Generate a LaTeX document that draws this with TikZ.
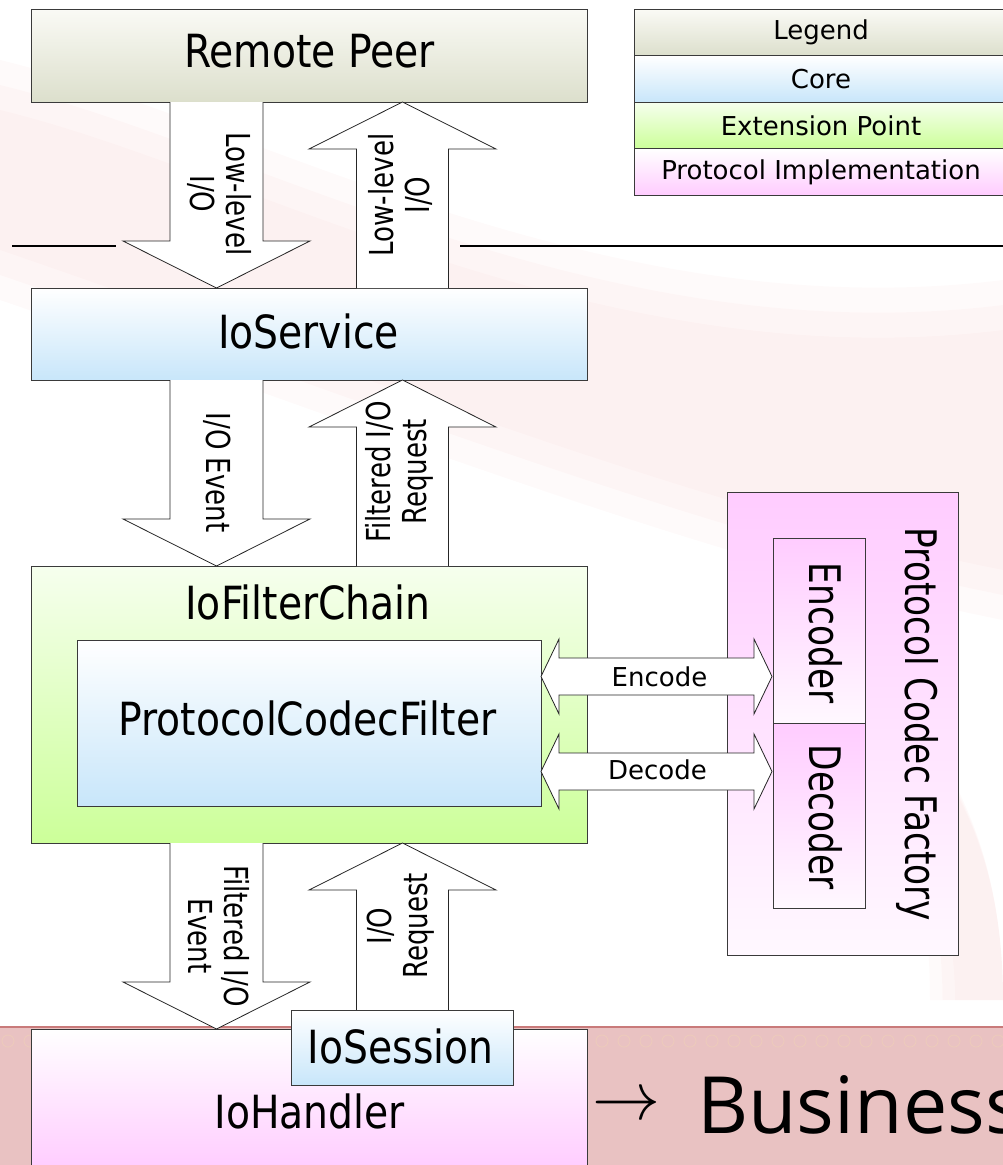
\documentclass[tikz,border=0pt]{standalone}
\usepackage{fontspec}
\setmainfont{DejaVu Sans}
\newfontfamily\bigfont[FakeStretch=0.86]{DejaVu Sans}
\newfontfamily\vfont[FakeStretch=0.79]{DejaVu Sans}
\newfontfamily\bizfont{Open Sans}
\definecolor{peerB}{HTML}{DCDFCC}
\definecolor{peerT}{HTML}{FAFAF5}
\definecolor{coreB}{HTML}{C8E6FA}
\definecolor{extB}{HTML}{CCFF99}
\definecolor{extT}{HTML}{F6FFEE}
\definecolor{implB}{HTML}{FFCCFF}
\definecolor{implW}{HTML}{FFF8FF}
\definecolor{bandC}{HTML}{E9C2C2}
\definecolor{bandE}{HTML}{C97A7A}
\definecolor{edgeC}{HTML}{3A3A3A}
\definecolor{swirl}{HTML}{EDCBBB}
\definecolor{feather}{HTML}{F2B8B8}
\tikzset{
  boxbase/.style={rectangle, draw=edgeC, line width=1pt, inner sep=0pt, outer sep=0pt},
  peerbox/.style={boxbase, top color=peerT, bottom color=peerB},
  corebox/.style={boxbase, top color=white, bottom color=coreB},
  extbox/.style={boxbase, top color=extT, bottom color=extB},
  implup/.style={boxbase, top color=white, bottom color=implB},
  impldown/.style={boxbase, top color=implB, bottom color=implW},
  blockarrow/.style={fill=white, draw=black!85, line width=0.8pt, line join=miter},
  sepline/.style={draw=black, line width=1.6pt},
  bigtxt/.style={font=\bigfont\fontsize{45.7}{50}\selectfont, inner sep=0pt},
  smalltxt/.style={font=\fontsize{26}{30}\selectfont, inner sep=0pt},
  vtxt/.style={font=\vfont\fontsize{33}{36}\selectfont, align=center, inner sep=0pt},
  vbig/.style={font=\vfont\fontsize{43.5}{48}\selectfont, inner sep=0pt},
  featherfill/.style={fill=feather, opacity=0.07},
}
\newcommand{\blockdown}[3]{%
  \draw[blockarrow] ({#1-46.5},#2) -- ({#1-46.5},{#3-47}) -- ({#1-93.5},{#3-47}) -- (#1,#3)
    -- ({#1+93.5},{#3-47}) -- ({#1+46.5},{#3-47}) -- ({#1+46.5},#2);}
\newcommand{\blockup}[3]{%
  \draw[blockarrow] ({#1-46},#2) -- ({#1-46},{#3+47}) -- ({#1-93.5},{#3+47}) -- (#1,#3)
    -- ({#1+93.5},{#3+47}) -- ({#1+46},{#3+47}) -- ({#1+46},#2);}
\newcommand{\blockboth}[3]{%
  \draw[blockarrow] (#1,#3) -- ({#1+18},{#3-37.5}) -- ({#1+18},{#3-18.5}) -- ({#2-18},{#3-18.5})
    -- ({#2-18},{#3-37.5}) -- (#2,#3) -- ({#2-18},{#3+37.5}) -- ({#2-18},{#3+18.5})
    -- ({#1+18},{#3+18.5}) -- ({#1+18},{#3+37.5}) -- cycle;}
\begin{document}
\begin{tikzpicture}[x=1pt,y=-1pt]
\useasboundingbox (0,0) rectangle (1003,1165);
% faint feather watermark (soft, layered)
\foreach \d in {0,25,50} {
  \fill[featherfill] (0,{60+\d}) .. controls (250,{120+\d}) and (600,{330+\d}) .. (1003,{280+\d})
    -- (1003,{620-\d}) .. controls (700,{560-\d}) and (350,{420-\d}) .. (0,{300-\d}) -- cycle;
  \fill[featherfill] ({880+\d/3},700) .. controls (950,760) and (1003,850) .. (1003,1000)
    -- ({930+\d/2},1000) .. controls ({930+\d/2},880) and (900,780) .. ({880+\d/3},700) -- cycle;
}
% background band at the bottom
\fill[bandC] (0,1027) rectangle (1003,1165);
\foreach \i in {0,...,45} {\draw[swirl, line width=0.8pt] ({\i*22+8},1041) circle (6);}
\draw[bandE, line width=1.2pt] (0,1027) -- (1003,1027);

% separator line
\coordinate (hl1) at (12,246);
\coordinate (hl2) at (116,246);
\coordinate (hr1) at (460,246);
\coordinate (hr2) at (1003,246);
\draw[sepline] (hl1) -- (hl2);
\draw[sepline] (hr1) -- (hr2);

% legend
\node[peerbox, minimum width=374, minimum height=46.5] (lg0) at (821,32.5) {};
\node[corebox, minimum width=374, minimum height=46.5] (lg1) at (821,79) {};
\node[extbox, minimum width=374, minimum height=46.5] (lg2) at (821,125.5) {};
\node[implup, minimum width=374, minimum height=46.5] (lg3) at (821,172) {};
\node[smalltxt] (lg0t) at (821,32.5) {Legend};
\node[smalltxt] (lg1t) at (821,79) {Core};
\node[smalltxt] (lg2t) at (821,125.5) {Extension Point};
\node[smalltxt] (lg3t) at (821,172) {Protocol Implementation};

% main boxes
\node[peerbox, minimum width=556, minimum height=93] (peer) at (309,55.5) {};
\node[corebox, minimum width=556, minimum height=92] (svc) at (309,334) {};
\node[extbox, minimum width=556, minimum height=277] (chain) at (309,704.5) {};
\node[corebox, minimum width=464, minimum height=166] (pcf) at (309,723) {};
\node[impldown, minimum width=231, minimum height=463] (fact) at (842.5,723.5) {};
\node[implup, minimum width=556, minimum height=141] (hand) at (309,1099.5) {};

% vertical block arrows
\blockdown{216.5}{102}{288}
\blockup{402.5}{288}{102}
\blockdown{216.5}{380}{566}
\blockup{402.5}{566}{380}
\blockdown{216.5}{843}{1029}
\blockup{402.5}{1010}{843}

% horizontal double arrows
\blockboth{541}{772}{676.5}
\blockboth{541}{772}{771.5}

% encoder / decoder
\node[impldown, minimum width=92, minimum height=185] (enc) at (819,630.5) {};
\node[impldown, minimum width=92, minimum height=185] (dec) at (819,815.5) {};

% session
\node[corebox, minimum width=222, minimum height=75] (sess) at (402,1047.5) {};

% box texts
\node[bigtxt] (peert) at (309.5,51.5) {Remote Peer};
\node[bigtxt] (svct) at (308.5,331.5) {IoService};
\node[bigtxt] (chaint) at (308,602.5) {IoFilterChain};
\node[bigtxt] (pcft) at (307.5,718) {ProtocolCodecFilter};
\node[bigtxt] (sesst) at (400.6,1046) {IoSession};
\node[bigtxt] (handt) at (309.7,1111.5) {IoHandler};
\node[vbig, rotate=-90] (factt) at (917,724) {Protocol Codec Factory};
\node[vbig, rotate=-90] (enct) at (826,633) {Encoder};
\node[vbig, rotate=-90] (dect) at (826,817) {Decoder};

% arrow labels
\node[vtxt, rotate=-90] (a1t) at (219.5,194) {Low-level\\I/O};
\node[vtxt, rotate=90] (a2t) at (400.5,195) {Low-level\\I/O};
\node[vtxt, rotate=-90] (a3t) at (217,472.5) {I/O Event};
\node[vtxt, rotate=90] (a4t) at (399.5,472) {Filtered I/O\\Request};
\node[vtxt, rotate=-90] (a5t) at (218.7,936) {Filtered I/O\\Event};
\node[vtxt, rotate=90] (a6t) at (400.2,926) {I/O\\Request};
\node[smalltxt] (enctxt) at (659.5,676.5) {Encode};
\node[smalltxt] (dectxt) at (657.5,770) {Decode};

% business
\node[inner sep=0pt] (bizarrow) at (626,1107) {\scalebox{6.8}{$\rightarrow$}};
\node[anchor=base west, font=\bizfont\fontsize{79}{84}\selectfont, inner sep=0pt] (biz) at (697,1133) {Business};
\end{tikzpicture}
\end{document}
